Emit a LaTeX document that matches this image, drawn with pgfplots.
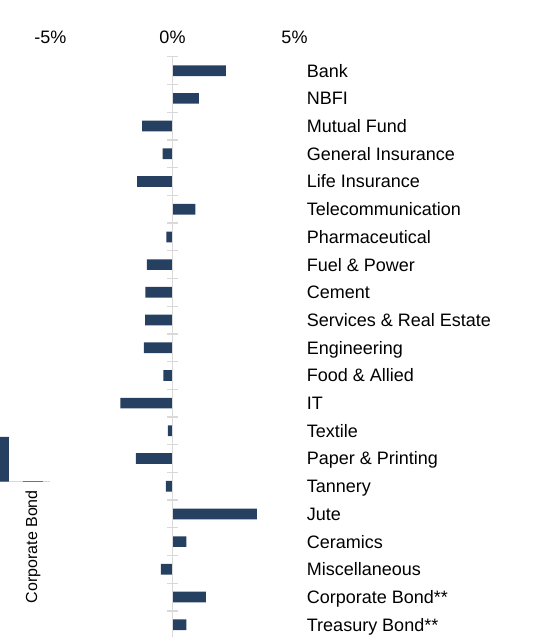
\documentclass[border=0pt]{standalone}
\usepackage{fontspec}
\setmainfont{Liberation Sans}
\usepackage{pgfplots}
\pgfplotsset{compat=1.18}
\definecolor{barblue}{RGB}{37,64,97}
\definecolor{axisgray}{RGB}{217,217,217}
\begin{document}
\begin{tikzpicture}
\path[use as bounding box] (0,0) rectangle (546pt,637pt);
% cut-off fragment of a neighbouring chart on the left
\begin{axis}[
    at={(-35pt,155.5pt)}, anchor=south west,
    scale only axis, width=85pt, height=100pt,
    ybar, bar width=20pt,
    xmin=-1, xmax=1.5, ymin=0, ymax=100,
    axis x line*=bottom, axis y line=none,
    x axis line style={draw=axisgray, line width=1pt, -},
    xtick={1}, xticklabels={Corporate Bond},
    xticklabel style={rotate=90, anchor=east, inner sep=0pt,
        font=\fontsize{16}{18}\selectfont},
    xticklabel shift=8.5pt,
    major tick length=0pt,
]
\addplot[fill=barblue, draw=none] coordinates {(0,44.5) (1,0.3)};
\end{axis}
% main chart
\begin{axis}[
    at={(1.7pt,580.15pt)}, anchor=north west,
    scale only axis, width=305pt, height=581.7pt,
    xbar, bar width=10.7pt,
    xmin=-7, xmax=5.5, ymin=-0.5, ymax=20.5,
    y dir=reverse,
    axis x line*=top, axis y line*=right,
    axis line style={draw=none},
    major tick length=0pt,
    xtick={-5,0,5}, xticklabels={-5\%,0\%,5\%},
    xticklabel style={anchor=south, inner sep=0pt},
    xticklabel shift=13pt,
    ytick={0,...,20},
    yticklabels={Bank, NBFI, Mutual Fund, General Insurance, Life Insurance,
        Telecommunication, Pharmaceutical, Fuel \& Power, Cement,
        Services \& Real Estate, Engineering, Food \& Allied, IT, Textile,
        Paper \& Printing, Tannery, Jute, Ceramics, Miscellaneous,
        Corporate Bond**, Treasury Bond**},
    yticklabel style={anchor=base west, inner sep=0pt, yshift=-6.4pt},
    tick label style={font=\fontsize{18}{21}\selectfont},
    clip=false,
]
\addplot[fill=barblue, draw=none] coordinates {
    (2.19,0) (1.08,1) (-1.25,2) (-0.41,3) (-1.45,4)
    (0.94,5) (-0.25,6) (-1.05,7) (-1.11,8) (-1.12,9)
    (-1.17,10) (-0.37,11) (-2.14,12) (-0.19,13) (-1.50,14)
    (-0.27,15) (3.46,16) (0.57,17) (-0.48,18) (1.37,19) (0.57,20)
};
\draw[axisgray, line width=1.3pt] (axis cs:0,-0.5) -- (axis cs:0,20.5);
\pgfplotsinvokeforeach{-0.5,0.5,...,19.5}{
    \draw[axisgray, line width=1.3pt] (axis cs:-0.225,#1) -- (axis cs:0.225,#1);
}
\end{axis}
\end{tikzpicture}
\end{document}
